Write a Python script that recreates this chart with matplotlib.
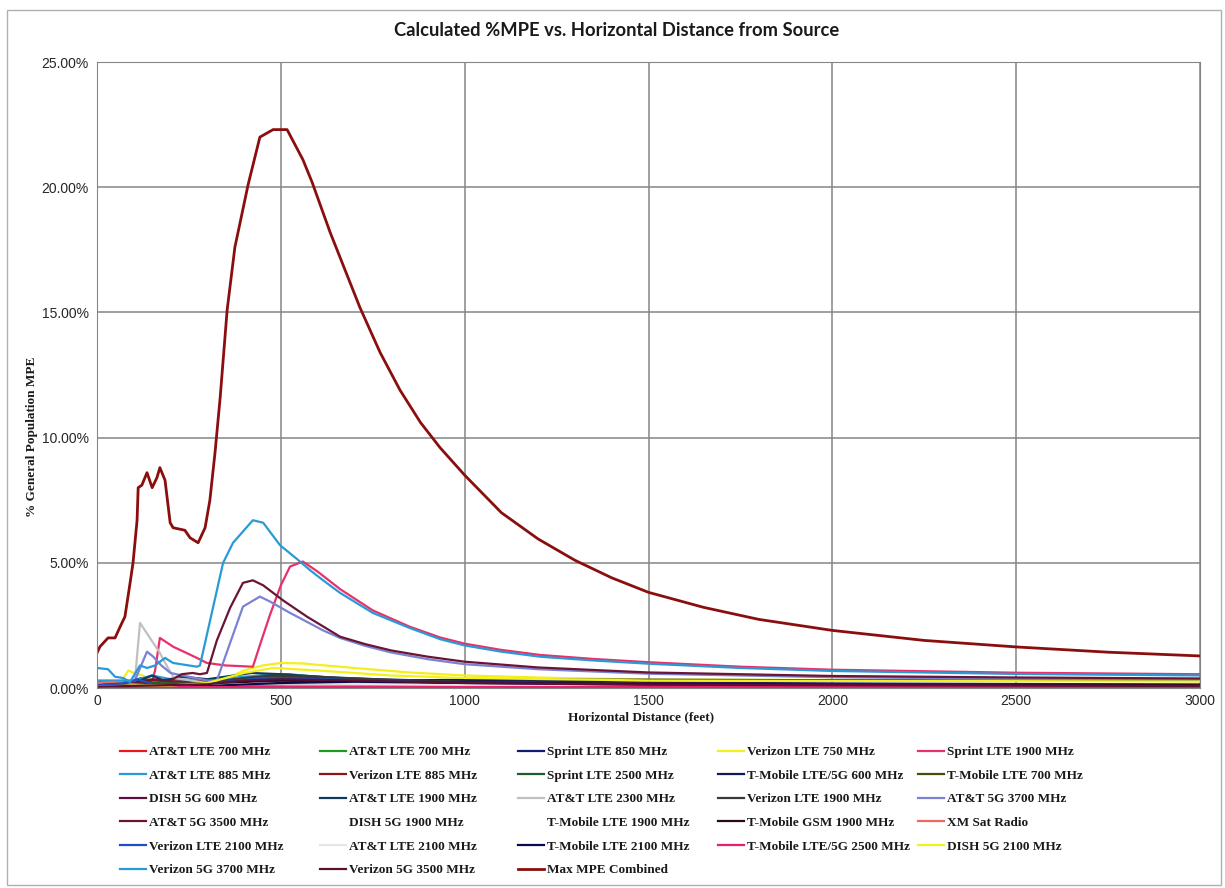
import matplotlib.pyplot as plt
from matplotlib.patches import Rectangle
from matplotlib.ticker import FuncFormatter, MultipleLocator

# ---- series (Excel order, row-major as in the legend) ----
names = [
    "AT&T LTE 700 MHz", "AT&T LTE 700 MHz", "Sprint LTE 850 MHz", "Verizon LTE 750 MHz", "Sprint LTE 1900 MHz",
    "AT&T LTE 885 MHz", "Verizon LTE 885 MHz", "Sprint LTE 2500 MHz", "T-Mobile LTE/5G 600 MHz", "T-Mobile LTE 700 MHz",
    "DISH 5G 600 MHz", "AT&T LTE 1900 MHz", "AT&T LTE 2300 MHz", "Verizon LTE 1900 MHz", "AT&T 5G 3700 MHz",
    "AT&T 5G 3500 MHz", "DISH 5G 1900 MHz", "T-Mobile LTE 1900 MHz", "T-Mobile GSM 1900 MHz", "XM Sat Radio",
    "Verizon LTE 2100 MHz", "AT&T LTE 2100 MHz", "T-Mobile LTE 2100 MHz", "T-Mobile LTE/5G 2500 MHz", "DISH 5G 2100 MHz",
    "Verizon 5G 3700 MHz", "Verizon 5G 3500 MHz", "Max MPE Combined",
]
colors = [
    "#e8191e", "#1e9b1e", "#101c6e", "#f5ee1c", "#e8306a",
    "#2a9ad6", "#8c1414", "#1d5e2e", "#0f1a5a", "#4a4a0a",
    "#5a0f3f", "#0e3a5c", "#c0c0c0", "#3a3a3a", "#7b82d4",
    "#6a1535", "none", "none", "#2a0818", "#e86a60",
    "#1c4fc0", "#e6e6e6", "#0a0a4a", "#e8206e", "#f2f21a",
    "#2a9ad6", "#5c0f2e", "#8b0e0e",
]

# distance (feet) / %MPE pairs
d_att700r = [0, 40, 80, 100, 120, 150, 200, 300, 400, 500, 600, 800, 1000, 1500, 2000, 3000]
p_att700r = [0.25, 0.2, 0.25, 0.3, 0.4, 0.3, 0.2, 0.15, 0.3, 0.45, 0.4, 0.3, 0.22, 0.15, 0.12, 0.1]
d_att700g = [0, 100, 200, 300, 400, 450, 520, 600, 700, 1000, 1500, 3000]
p_att700g = [0.05, 0.15, 0.2, 0.15, 0.35, 0.5, 0.55, 0.45, 0.35, 0.2, 0.13, 0.08]
d_spr850 = [0, 200, 400, 600, 800, 1000, 1500, 2000, 3000]
p_spr850 = [0.02, 0.05, 0.15, 0.3, 0.3, 0.28, 0.22, 0.18, 0.14]
d_vz750 = [0, 60, 85, 110, 125, 150, 200, 300, 350, 400, 450, 500, 560, 620, 700, 850, 1000, 1250, 1500, 2000, 3000]
p_vz750 = [0.05, 0.1, 0.7, 0.55, 0.5, 0.25, 0.15, 0.2, 0.35, 0.7, 0.9, 1.0, 0.98, 0.9, 0.8, 0.62, 0.5, 0.4, 0.34, 0.32, 0.3]
d_spr1900 = [0, 100, 150, 158, 171, 207, 272, 299, 350, 424, 445, 470, 500, 525, 560, 600, 661, 750, 850, 933,
             1000, 1100, 1205, 1350, 1500, 1750, 2000, 2500, 3000]
p_spr1900 = [0.05, 0.1, 0.3, 0.7, 2.0, 1.65, 1.2, 1.0, 0.9, 0.85, 1.8, 2.9, 4.1, 4.85, 5.05, 4.65, 3.95, 3.1, 2.45, 2.02,
             1.77, 1.52, 1.32, 1.16, 1.03, 0.85, 0.73, 0.61, 0.55]
d_att885 = [0, 100, 150, 200, 300, 400, 500, 600, 800, 1000, 1500, 3000]
p_att885 = [0.3, 0.3, 0.5, 0.35, 0.3, 0.45, 0.55, 0.45, 0.3, 0.22, 0.14, 0.08]
d_vz885 = [0, 100, 150, 250, 350, 450, 550, 700, 1000, 1500, 3000]
p_vz885 = [0.1, 0.2, 0.3, 0.25, 0.3, 0.45, 0.4, 0.3, 0.2, 0.12, 0.07]
d_spr2500 = [0, 150, 300, 400, 500, 600, 800, 1000, 1500, 3000]
p_spr2500 = [0.05, 0.2, 0.15, 0.35, 0.45, 0.4, 0.28, 0.2, 0.12, 0.07]
d_tm600 = [0, 200, 400, 500, 700, 1000, 1500, 2000, 3000]
p_tm600 = [0.02, 0.04, 0.1, 0.15, 0.28, 0.33, 0.33, 0.31, 0.28]
d_tm700 = [0, 150, 300, 450, 550, 800, 1000, 1500, 3000]
p_tm700 = [0.05, 0.15, 0.12, 0.3, 0.35, 0.28, 0.22, 0.15, 0.1]
d_dish600 = [0, 150, 300, 450, 600, 900, 1500, 3000]
p_dish600 = [0.05, 0.1, 0.1, 0.25, 0.3, 0.25, 0.18, 0.12]
d_att1900 = [0, 100, 150, 180, 230, 300, 420, 500, 650, 1000, 1500, 3000]
p_att1900 = [0.15, 0.2, 0.5, 0.3, 0.45, 0.35, 0.6, 0.55, 0.4, 0.25, 0.15, 0.08]
d_att2300 = [0, 80, 103, 117, 171, 193, 210, 300, 500, 1000, 3000]
p_att2300 = [0.1, 0.15, 0.3, 2.6, 1.4, 0.8, 0.4, 0.2, 0.15, 0.08, 0.03]
d_vz1900 = [0, 150, 300, 400, 480, 600, 800, 1000, 1500, 3000]
p_vz1900 = [0.05, 0.15, 0.2, 0.4, 0.5, 0.45, 0.32, 0.24, 0.15, 0.08]
d_att3700 = [0, 100, 136, 153, 175, 200, 250, 300, 326, 362, 397, 443, 471, 525, 615, 661, 730, 800, 900, 1000,
             1200, 1500, 2000, 2500, 3000]
p_att3700 = [0.1, 0.2, 1.45, 1.25, 0.9, 0.6, 0.45, 0.3, 0.3, 1.8, 3.25, 3.65, 3.45, 3.0, 2.3, 2.0, 1.68, 1.42, 1.15, 0.95,
             0.75, 0.57, 0.43, 0.37, 0.34]
d_att3500 = [0, 100, 150, 200, 230, 260, 280, 299, 326, 362, 397, 424, 452, 506, 571, 661, 730, 800, 900, 1000,
             1200, 1500, 2000, 2500, 3000]
p_att3500 = [0.15, 0.2, 0.35, 0.3, 0.55, 0.6, 0.55, 0.6, 1.9, 3.2, 4.2, 4.3, 4.1, 3.5, 2.85, 2.05, 1.75, 1.5, 1.25, 1.05,
             0.82, 0.62, 0.48, 0.42, 0.38]
d_dish1900 = [0, 3000]
p_dish1900 = [0.0, 0.0]
d_tm1900 = [0, 3000]
p_tm1900 = [0.0, 0.0]
d_tmgsm = [0, 150, 300, 450, 600, 1000, 1500, 3000]
p_tmgsm = [0.05, 0.15, 0.12, 0.3, 0.32, 0.22, 0.15, 0.1]
d_xm = [0, 50, 100, 150, 300, 600, 1000, 3000]
p_xm = [0.2, 0.25, 0.15, 0.1, 0.08, 0.06, 0.05, 0.03]
d_vz2100 = [0, 80, 110, 150, 300, 450, 600, 1000, 1500, 3000]
p_vz2100 = [0.1, 0.2, 0.35, 0.15, 0.15, 0.4, 0.35, 0.2, 0.12, 0.07]
d_att2100 = [0, 150, 300, 500, 1000, 3000]
p_att2100 = [0.05, 0.1, 0.1, 0.2, 0.12, 0.06]
d_tm2100 = [0, 150, 300, 500, 700, 1000, 1500, 3000]
p_tm2100 = [0.05, 0.1, 0.08, 0.2, 0.25, 0.2, 0.14, 0.08]
d_tm2500 = [0, 500, 1000, 3000]
p_tm2500 = [0.02, 0.02, 0.02, 0.02]
d_dish2100 = [0, 100, 200, 300, 400, 480, 600, 800, 1000, 1500, 3000]
p_dish2100 = [0.05, 0.1, 0.1, 0.2, 0.6, 0.8, 0.7, 0.5, 0.4, 0.3, 0.26]
d_vz3700 = [0, 30, 49, 70, 90, 117, 136, 158, 185, 207, 272, 280, 343, 370, 424, 452, 498, 544, 580, 615, 661,
            750, 850, 933, 1000, 1100, 1205, 1350, 1500, 1750, 2000, 2500, 3000]
p_vz3700 = [0.8, 0.75, 0.45, 0.4, 0.25, 0.9, 0.8, 0.9, 1.2, 1.0, 0.85, 0.9, 5.0, 5.8, 6.7, 6.6, 5.7, 5.15, 4.7, 4.3, 3.8,
            3.0, 2.4, 1.95, 1.7, 1.45, 1.25, 1.1, 0.97, 0.8, 0.68, 0.56, 0.5]
d_vz3500 = [0, 150, 300, 400, 500, 700, 1000, 1500, 3000]
p_vz3500 = [0.05, 0.1, 0.15, 0.3, 0.35, 0.3, 0.2, 0.13, 0.08]
d_max = [0, 8, 30, 49, 63, 76, 90, 98, 109, 112, 122, 136, 150, 163, 171, 185, 199, 207, 239, 253, 275, 294,
         307, 321, 335, 354, 375, 411, 443, 479, 517, 560, 585, 634, 715, 770, 824, 880, 933, 1000, 1100, 1200,
         1300, 1400, 1500, 1650, 1800, 2000, 2250, 2500, 2750, 3000]
p_max = [1.4, 1.65, 2.0, 2.0, 2.45, 2.85, 4.2, 5.0, 6.7, 8.0, 8.1, 8.6, 8.0, 8.4, 8.8, 8.3, 6.6, 6.4, 6.3, 6.0,
         5.8, 6.4, 7.5, 9.4, 11.6, 15.1, 17.6, 20.1, 22.0, 22.3, 22.3, 21.1, 20.2, 18.2, 15.2, 13.4, 11.9, 10.6,
         9.6, 8.5, 7.0, 5.95, 5.1, 4.4, 3.82, 3.22, 2.74, 2.3, 1.9, 1.64, 1.43, 1.28]

series = [
    (d_att700r, p_att700r), (d_att700g, p_att700g), (d_spr850, p_spr850), (d_vz750, p_vz750), (d_spr1900, p_spr1900),
    (d_att885, p_att885), (d_vz885, p_vz885), (d_spr2500, p_spr2500), (d_tm600, p_tm600), (d_tm700, p_tm700),
    (d_dish600, p_dish600), (d_att1900, p_att1900), (d_att2300, p_att2300), (d_vz1900, p_vz1900), (d_att3700, p_att3700),
    (d_att3500, p_att3500), (d_dish1900, p_dish1900), (d_tm1900, p_tm1900), (d_tmgsm, p_tmgsm), (d_xm, p_xm),
    (d_vz2100, p_vz2100), (d_att2100, p_att2100), (d_tm2100, p_tm2100), (d_tm2500, p_tm2500), (d_dish2100, p_dish2100),
    (d_vz3700, p_vz3700), (d_vz3500, p_vz3500), (d_max, p_max),
]

fig = plt.figure(figsize=(12.25, 8.88), dpi=100)
fig.patches.append(Rectangle((7 / 1225, 3 / 888), 1214 / 1225, 875 / 888, transform=fig.transFigure,
                             fill=False, edgecolor="#b0b0b0", linewidth=1))
ax = fig.add_axes([97 / 1225, 1 - 688 / 888, 1103 / 1225, 626 / 888])

handles = []
for (d, p), c in zip(series, colors):
    lw = 2.0 if c == "#8b0e0e" else 1.6
    h, = ax.plot(d, p, color=c, linewidth=lw, solid_joinstyle="round")
    handles.append(h)

ax.set_xlim(0, 3000)
ax.set_ylim(0, 25)
ax.xaxis.set_major_locator(MultipleLocator(500))
ax.yaxis.set_major_locator(MultipleLocator(5))
ax.yaxis.set_major_formatter(FuncFormatter(lambda v, pos: f"{v:.2f}%"))
ax.grid(True, color="#858585", linewidth=1.1)
ax.set_axisbelow(True)
for s in ax.spines.values():
    s.set_color("#858585")
ax.tick_params(length=0, labelsize=10, labelcolor="#262626")
ax.tick_params(axis="x", pad=4)
ax.tick_params(axis="y", pad=6)
for lab in ax.get_xticklabels() + ax.get_yticklabels():
    lab.set_family("Liberation Sans")

fig.text(617 / 1225, 1 - 31 / 888, "Calculated %MPE vs. Horizontal Distance from Source",
         ha="center", va="center", fontsize=13.2, fontweight="bold", family="Lato", color="#1a1a1a")
fig.text(641 / 1225, 1 - 717 / 888, "Horizontal Distance (feet)", ha="center", va="center",
         fontsize=9.5, fontweight="bold", family="Liberation Serif", color="#1a1a1a")
fig.text(32 / 1225, 1 - 437 / 888, "% General Population MPE", ha="center", va="center", rotation=90,
         fontsize=9.5, fontweight="bold", family="Liberation Serif", color="#1a1a1a")

# legend: 5 columns, entries placed row by row like Excel
col_x = [120, 320, 518, 718, 918]
for c in range(5):
    idx = [r * 5 + c for r in range(6) if r * 5 + c < len(names)]
    leg = fig.legend([handles[i] for i in idx], [names[i] for i in idx], loc="upper left",
                     bbox_to_anchor=(col_x[c] / 1225, 1 - 746 / 888), frameon=False,
                     prop={"family": "Liberation Serif", "weight": "bold", "size": 9.5},
                     handlelength=2.0, handletextpad=0.2, labelspacing=0.86, borderpad=0, borderaxespad=0)
    for t in leg.get_texts():
        t.set_color("#1a1a1a")

fig.savefig("out.png", dpi=100)
